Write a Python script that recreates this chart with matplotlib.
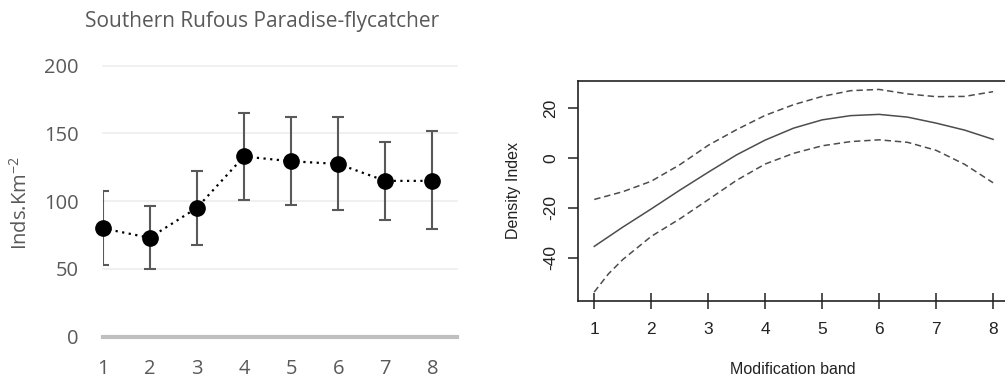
import matplotlib
matplotlib.use("Agg")
import matplotlib.pyplot as plt
import numpy as np

plt.rcParams['axes.unicode_minus'] = False

# ---------------- data ----------------
bands = [1, 2, 3, 4, 5, 6, 7, 8]
density = [80, 73, 95, 133, 129.5, 127.5, 115, 115]
upper = [107.7, 96.2, 122.5, 165, 162, 162, 143.5, 152]
lower = [53, 49.7, 68, 101, 97.2, 93.7, 86, 79.3]
y_ticks_left = [0, 50, 100, 150, 200]
title_left = "Southern Rufous Paradise-flycatcher"

gam_x = [1, 1.5, 2, 2.5, 3, 3.5, 4, 4.5, 5, 5.5, 6, 6.5, 7, 7.5, 8]
gam_fit = [-35.5, -27.8, -20.5, -13, -5.8, 1.2, 7.1, 11.9, 15.2, 16.9, 17.4, 16.3, 13.9, 11.1, 7.4]
gam_hi = [-16.7, -13.6, -9.4, -2.8, 5, 11.3, 17, 21.3, 24.6, 26.9, 27.4, 25.6, 24.5, 24.6, 26.5]
gam_lo_x = [1, 1.25, 1.5, 2, 2.5, 3, 3.5, 4, 4.5, 5, 5.5, 6, 6.5, 7, 7.5, 8]
gam_lo = [-53.8, -46.5, -40.8, -31.5, -24.5, -16.8, -9, -2.5, 1.8, 4.8, 6.5, 7.2, 6.2, 3, -2.6, -10]
y_ticks_right = [-40, -20, 0, 20]

W, H = 1005, 381
fig = plt.figure(figsize=(W / 100, H / 100), dpi=100)

def fx(px):
    return px / W

def fy(py):
    return 1 - py / H

# ---------------- left panel ----------------
lf = 'Open Sans'
gray_txt = '#595959'
axL = fig.add_axes([fx(102.5), fy(336.7), fx(457) - fx(102.5), fy(65.7) - fy(336.7)])
axL.set_xlim(1, 8.52)
axL.set_ylim(0, 200)
for s in axL.spines.values():
    s.set_visible(False)
for yv in y_ticks_left[1:]:
    axL.axhline(yv, color='#eeeeee', lw=1.2, zorder=0, clip_on=False)
axL.axhline(0, color='#bfbfbf', lw=3, zorder=1, clip_on=False)

err = [np.array(density) - np.array(lower), np.array(upper) - np.array(density)]
axL.errorbar(bands, density, yerr=err, fmt='none', ecolor='#595959',
             elinewidth=1.5, capsize=4.6, capthick=1.5, zorder=2)
axL.plot(bands, density, color='black', lw=1.6, linestyle=(0, (1, 2)),
         zorder=3, clip_on=False)
axL.plot(bands, density, 'o', color='black', markersize=11, zorder=4, clip_on=False)

axL.set_xticks(bands)
axL.set_yticks(y_ticks_left)
axL.tick_params(axis='both', length=0, labelsize=14.5, labelcolor=gray_txt)
axL.tick_params(axis='y', pad=17)
axL.tick_params(axis='x', pad=16)
for lbl in axL.get_xticklabels() + axL.get_yticklabels():
    lbl.set_fontfamily(lf)

fig.text(fx(262), fy(21), title_left, ha='center', va='center',
         fontsize=15, color=gray_txt, family=lf)
fig.text(fx(21), fy(203), r'Inds.Km$^{\mathregular{-2}}$', ha='center', va='center',
         rotation=90, fontsize=14.5, color=gray_txt, family=lf)

# ---------------- right panel ----------------
rf = 'Liberation Sans'
axR = fig.add_axes([fx(578.3), fy(301), fx(1009) - fx(578.3), fy(80.7) - fy(301)])
axR.set_xlim(0.72, 8.28)
axR.set_ylim(-57.4, 30.9)
for s in axR.spines.values():
    s.set_color('#222222')
    s.set_linewidth(1.2)
line_col = '#4d4d4d'
axR.plot(gam_x, gam_fit, color=line_col, lw=1.1)
axR.plot(gam_x, gam_hi, color=line_col, lw=1.1, dashes=(4.2, 2.5))
axR.plot(gam_lo_x, gam_lo, color=line_col, lw=1.1, dashes=(4.2, 2.5))

axR.set_xticks(bands)
axR.set_yticks(y_ticks_right)
axR.tick_params(axis='x', direction='inout', length=12, width=1.1, color='#222222',
                labelsize=12.5, pad=9, labelcolor='#222222')
axR.tick_params(axis='y', direction='out', length=7.5, width=1.1, color='#222222',
                labelsize=12.5, pad=7, labelcolor='#222222', labelrotation=90)
for lbl in axR.get_xticklabels() + axR.get_yticklabels():
    lbl.set_fontfamily(rf)
for lbl in axR.get_yticklabels():
    lbl.set_va('center')

fig.text(fx(793), fy(369), 'Modification band', ha='center', va='center',
         fontsize=11.5, color='#222222', family=rf)
fig.text(fx(513), fy(190.7), 'Density Index', ha='center', va='center',
         rotation=90, fontsize=11.5, color='#222222', family=rf)

fig.savefig('out.png', dpi=100)
